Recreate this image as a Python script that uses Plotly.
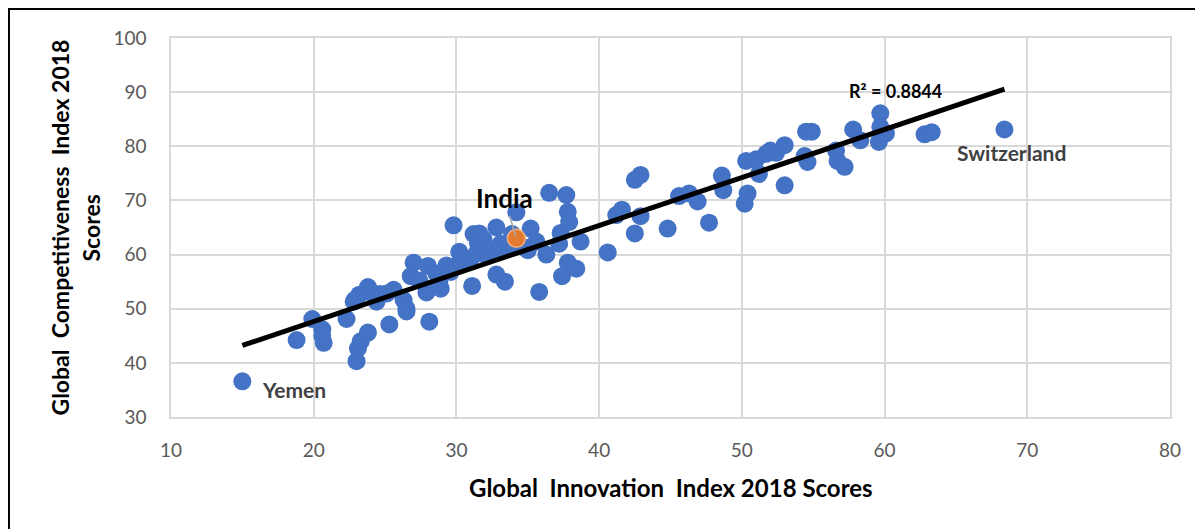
import numpy as np
import plotly.graph_objects as go

# Global Innovation Index 2018 (x) vs Global Competitiveness Index 2018 (y)
gii = [
    15.0, 18.8, 19.9, 20.6, 20.7, 20.6, 22.3, 22.9, 22.8, 23.0, 23.1, 23.3, 23.8,
    23.2, 23.8, 24.0, 24.4, 24.6, 25.3, 25.1, 25.6, 26.5, 26.3, 26.5, 26.8, 27.0,
    27.4, 27.9, 28.0, 28.1, 28.6, 28.8, 28.9, 29.3, 29.6, 29.8, 30.0, 30.2, 30.6,
    31.0, 31.1, 31.2, 31.4, 31.5, 31.6, 31.9, 32.1, 32.4, 32.7, 32.8, 32.8, 33.0,
    33.1, 33.4, 33.6, 33.9, 34.2, 34.3, 34.8, 35.0, 35.2, 35.6, 35.8, 36.3, 36.5,
    37.7, 37.8, 37.9, 37.3, 37.2, 37.8, 37.4, 38.4, 38.7, 40.6, 41.2, 41.6, 42.5,
    42.9, 42.5, 42.9, 44.8, 45.6, 46.3, 46.9, 47.7, 48.6, 48.7, 50.3, 51.0, 50.4,
    50.2, 51.2, 51.7, 52.0, 52.4, 53.0, 53.0, 54.4, 54.5, 54.9, 54.6, 56.6, 56.7,
    57.2, 57.8, 58.3, 59.7, 59.7, 59.8, 59.6, 60.1, 62.8, 63.3, 68.4,
]
gci = [
    36.6, 44.2, 48.1, 46.2, 43.7, 45.0, 48.1, 51.7, 51.3, 40.3, 42.7, 44.0, 45.6,
    52.6, 54.0, 53.0, 51.3, 52.7, 47.1, 52.8, 53.5, 50.0, 51.6, 49.5, 56.0, 58.5,
    55.2, 53.0, 57.9, 47.6, 56.5, 55.0, 53.7, 58.0, 56.8, 65.4, 58.0, 60.5, 58.8,
    59.2, 54.2, 63.8, 60.2, 62.2, 63.9, 62.8, 59.8, 60.4, 61.0, 65.0, 56.3, 60.6,
    62.0, 55.0, 61.4, 63.8, 67.8, 62.2, 61.3, 60.8, 64.8, 62.4, 53.1, 60.0, 71.4,
    71.0, 67.9, 66.0, 64.0, 62.0, 58.5, 56.0, 57.4, 62.4, 60.4, 67.3, 68.3, 73.8,
    74.7, 63.9, 67.1, 64.8, 70.8, 71.3, 69.8, 65.9, 74.6, 71.9, 77.3, 77.6, 71.3,
    69.4, 74.9, 78.6, 79.2, 78.8, 80.2, 72.8, 78.2, 82.7, 82.7, 77.1, 79.2, 77.3,
    76.2, 83.1, 81.1, 86.1, 83.6, 82.3, 80.8, 82.4, 82.2, 82.6, 83.1,
]
india = (34.2, 63.0)

x_ticks = [10, 20, 30, 40, 50, 60, 70, 80]
y_ticks = [30, 40, 50, 60, 70, 80, 90, 100]

FONT = "Lato"
GRID = "#d9d9d9"

# linear trendline over the whole sample
slope, intercept = np.polyfit(gii + [india[0]], gci + [india[1]], 1)
trend_x = np.array([min(gii), max(gii)])
trend_y = intercept + slope * trend_x

fig = go.Figure()
fig.add_trace(go.Scatter(
    x=gii, y=gci, mode="markers",
    marker=dict(size=18, color="#4472c4", line=dict(width=0)),
    showlegend=False, hoverinfo="x+y",
))
fig.add_trace(go.Scatter(
    x=trend_x, y=trend_y, mode="lines",
    line=dict(color="black", width=5), showlegend=False, hoverinfo="skip",
))
fig.add_trace(go.Scatter(
    x=[india[0]], y=[india[1]], mode="markers",
    marker=dict(size=18, color="#e47a30", line=dict(color="#f4b183", width=1.5)),
    showlegend=False, hoverinfo="x+y",
))

# point labels
fig.add_annotation(x=india[0], y=india[1], text="<b>India</b>", showarrow=True,
                   ax=-12, ay=-40, arrowhead=0, arrowwidth=1.5, arrowcolor="#a6a6a6",
                   standoff=2, font=dict(family=FONT, size=26, color="black"))
fig.add_annotation(x=18.6, y=35.0, text="<b>Yemen</b>", showarrow=False,
                   font=dict(family=FONT, size=21, color="#404040"))
fig.add_annotation(x=68.9, y=78.9, text="<b>Switzerland</b>", showarrow=False,
                   font=dict(family=FONT, size=21, color="#404040"))
fig.add_annotation(x=60.8, y=90.2, text="<b>R² = 0.8844</b>", showarrow=False,
                   font=dict(family=FONT, size=18, color="black"))

# axis titles; y title in two lines with Excel-style spacing
title_font = dict(family=FONT, size=23, color="black")
fig.add_annotation(xref="paper", yref="paper", x=-0.1121, y=0.5, textangle=-90,
                   xanchor="center", yanchor="middle",
                   text="<b>Global  Competitiveness  Index 2018</b>", showarrow=False,
                   font=title_font)
fig.add_annotation(xref="paper", yref="paper", x=-0.0801, y=0.5, textangle=-90,
                   xanchor="center", yanchor="middle",
                   text="<b>Scores</b>", showarrow=False, font=title_font)
fig.add_annotation(xref="paper", yref="paper", x=0.5, y=-0.1847,
                   xanchor="center", yanchor="middle",
                   text="<b>Global  Innovation  Index 2018 Scores</b>", showarrow=False,
                   font=dict(family=FONT, size=24, color="black"))

# chart frame (only its top and left edges fall inside the picture)
fig.add_shape(type="rect", xref="paper", yref="paper",
              x0=-0.1622, x1=1.3, y0=-0.5, y1=1.0765,
              line=dict(color="black", width=2), layer="above")

axis_common = dict(
    showgrid=True, gridcolor=GRID, gridwidth=1.5,
    showline=True, linecolor=GRID, linewidth=1.5, mirror=True,
    zeroline=False, ticks="",
    tickfont=dict(family=FONT, size=19, color="#595959"),
)
fig.update_xaxes(range=[10, 80], tickvals=x_ticks, ticklabelstandoff=15, **axis_common)
fig.update_yaxes(range=[30, 100], tickvals=y_ticks, ticklabelstandoff=19, **axis_common)

# page body adds an 8px offset, so the figure is sized to end at the window edge
fig.update_layout(
    width=1195, height=521,
    margin=dict(l=163, r=33, t=30, b=112),
    plot_bgcolor="white", paper_bgcolor="white",
    font=dict(family=FONT),
)

fig.write_html("out.html")
